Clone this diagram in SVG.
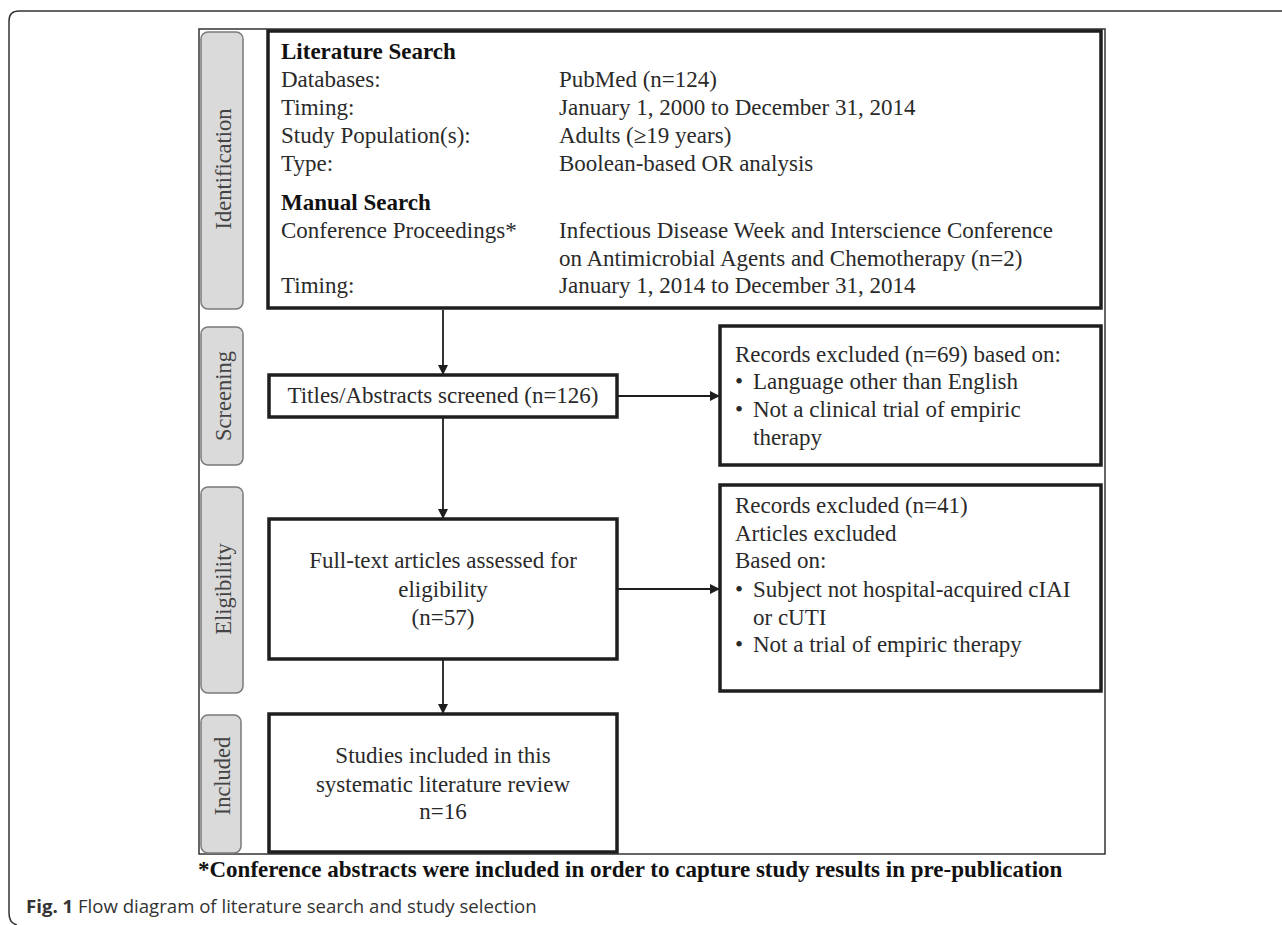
<svg xmlns="http://www.w3.org/2000/svg" width="1282" height="925" viewBox="0 0 1282 925">
<defs>
<style>
.t{font-family:"Liberation Serif","Times New Roman",serif;font-size:23px;fill:#2a2a2a}
.b{font-weight:bold;fill:#111}
.lab{font-family:"Liberation Serif","Times New Roman",serif;font-size:22.5px;fill:#444}
.box{fill:#fff;stroke:#1e1e1e;stroke-width:3.5}
.side{fill:#dadada;stroke:#7a7a7a;stroke-width:1.5}
.con{stroke:#1e1e1e;stroke-width:1.8;fill:none}
.cap{font-family:"Open Sans","Noto Sans",sans-serif;font-size:18.6px;fill:#333}
</style>
<marker id="ah" markerWidth="10" markerHeight="10" refX="9" refY="5" orient="auto" markerUnits="userSpaceOnUse">
<path d="M0,0 L10,5 L0,10 Z" fill="#1e1e1e"/>
</marker>
</defs>
<rect width="1282" height="925" fill="#fff"/>
<path d="M1282,11 H19 Q9,11 9,21 V913 Q9,923 17,925" fill="none" stroke="#333" stroke-width="1.5"/>
<rect x="199" y="29" width="906" height="825" fill="none" stroke="#333" stroke-width="1.5"/>

<g id="lbl-identification"><rect class="side" x="201" y="32" width="42" height="277" rx="7"/><text class="lab" transform="translate(231,169) rotate(-90)" text-anchor="middle">Identification</text></g>
<g id="lbl-screening"><rect class="side" x="201" y="327" width="42" height="138" rx="7"/><text class="lab" transform="translate(231,396) rotate(-90)" text-anchor="middle">Screening</text></g>
<g id="lbl-eligibility"><rect class="side" x="201" y="487" width="42" height="206" rx="7"/><text class="lab" transform="translate(231,589) rotate(-90)" text-anchor="middle">Eligibility</text></g>
<g id="lbl-included"><rect class="side" x="201" y="715" width="40" height="138" rx="7"/><text class="lab" transform="translate(230,776) rotate(-90)" text-anchor="middle">Included</text></g>

<g id="connectors">
<line class="con" x1="443" y1="310" x2="443" y2="374" marker-end="url(#ah)"/>
<line class="con" x1="443" y1="417" x2="443" y2="518" marker-end="url(#ah)"/>
<line class="con" x1="443" y1="659" x2="443" y2="713" marker-end="url(#ah)"/>
<line class="con" x1="617" y1="396" x2="719" y2="396" marker-end="url(#ah)"/>
<line class="con" x1="617" y1="589" x2="719" y2="589" marker-end="url(#ah)"/>
</g>

<g id="search">
<rect class="box" x="268" y="31" width="833" height="277"/>
<text class="t b" x="281" y="59">Literature Search</text>
<text class="t" x="281" y="87">Databases:</text>
<text class="t" x="559" y="87">PubMed (n=124)</text>
<text class="t" x="281" y="115">Timing:</text>
<text class="t" x="559" y="115">January 1, 2000 to December 31, 2014</text>
<text class="t" x="281" y="143">Study Population(s):</text>
<text class="t" x="559" y="143">Adults (≥19 years)</text>
<text class="t" x="281" y="171">Type:</text>
<text class="t" x="559" y="171">Boolean-based OR analysis</text>
<text class="t b" x="281" y="210">Manual Search</text>
<text class="t" x="281" y="238">Conference Proceedings*</text>
<text class="t" x="559" y="238">Infectious Disease Week and Interscience Conference</text>
<text class="t" x="559" y="266">on Antimicrobial Agents and Chemotherapy (n=2)</text>
<text class="t" x="281" y="293">Timing:</text>
<text class="t" x="559" y="293">January 1, 2014 to December 31, 2014</text>
</g>

<g id="screened">
<rect class="box" x="269" y="375" width="348" height="42"/>
<text class="t" x="443" y="403" text-anchor="middle">Titles/Abstracts screened (n=126)</text>
</g>

<g id="excluded1">
<rect class="box" x="720" y="326" width="381" height="139"/>
<text class="t" x="735" y="362">Records excluded (n=69) based on:</text>
<text class="t" x="735" y="389">•</text><text class="t" x="753" y="389">Language other than English</text>
<text class="t" x="735" y="417">•</text><text class="t" x="753" y="417">Not a clinical trial of empiric</text>
<text class="t" x="753" y="445">therapy</text>
</g>

<g id="fulltext">
<rect class="box" x="269" y="519" width="348" height="140"/>
<text class="t" x="443" y="568" text-anchor="middle">Full-text articles assessed for</text>
<text class="t" x="443" y="597" text-anchor="middle">eligibility</text>
<text class="t" x="443" y="625" text-anchor="middle">(n=57)</text>
</g>

<g id="excluded2">
<rect class="box" x="720" y="485" width="381" height="206"/>
<text class="t" x="735" y="513">Records excluded (n=41)</text>
<text class="t" x="735" y="541">Articles excluded</text>
<text class="t" x="735" y="568">Based on:</text>
<text class="t" x="735" y="597">•</text><text class="t" x="753" y="597">Subject not hospital-acquired cIAI</text>
<text class="t" x="753" y="625">or cUTI</text>
<text class="t" x="735" y="652">•</text><text class="t" x="753" y="652">Not a trial of empiric therapy</text>
</g>

<g id="included">
<rect class="box" x="269" y="714" width="348" height="138"/>
<text class="t" x="443" y="763" text-anchor="middle">Studies included in this</text>
<text class="t" x="443" y="792" text-anchor="middle">systematic literature review</text>
<text class="t" x="443" y="819" text-anchor="middle">n=16</text>
</g>

<text class="t b" x="198" y="877">*Conference abstracts were included in order to capture study results in pre-publication</text>
<text class="cap" x="26" y="913"><tspan font-weight="bold">Fig. 1</tspan> Flow diagram of literature search and study selection</text>
</svg>
